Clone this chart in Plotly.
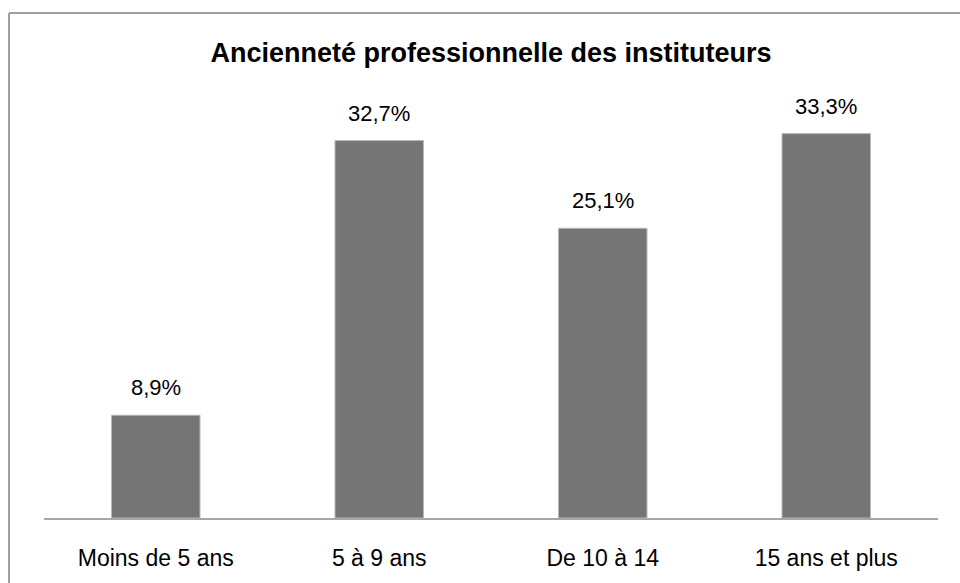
import plotly.graph_objects as go

categories = ["Moins de 5 ans", "5 à 9 ans", "De 10 à 14", "15 ans et plus"]
values = [8.9, 32.7, 25.1, 33.3]
labels = [f"{v:.1f}%".replace(".", ",") for v in values]

W, H = 960, 583
ml, mr, mt, mb = 44, 22, 114, 61
pw, ph = W - ml - mr, H - mt - mb

FONT = "Liberation Sans"

fig = go.Figure()
fig.add_trace(go.Bar(
    x=categories, y=values,
    marker=dict(color="#757575", line=dict(color="#b8b8b8", width=1)),
    hoverinfo="skip",
))

for c, v, t in zip(categories, values, labels):
    fig.add_annotation(x=c, y=v, text=t, showarrow=False, yanchor="bottom",
                       yshift=13, font=dict(family=FONT, size=22, color="#000"))

def px2x(p):
    return (p - ml) / pw

def py2y(p):
    return (H - mb - p) / ph

# chart-area border: only its top and left edges fall inside the picture
border = dict(color="#a0a0a0", width=2)
fig.add_shape(type="line", xref="paper", yref="paper",
              x0=px2x(9), x1=px2x(W + 20), y0=py2y(12), y1=py2y(12), line=border)
fig.add_shape(type="line", xref="paper", yref="paper",
              x0=px2x(9), x1=px2x(9), y0=py2y(12), y1=py2y(H + 20), line=border)

fig.update_layout(
    width=W, height=H,
    margin=dict(l=ml, r=mr, t=mt, b=mb),
    paper_bgcolor="white", plot_bgcolor="white",
    showlegend=False,
    bargap=0.604,
    title=dict(text="<b>Ancienneté professionnelle des instituteurs</b>",
               x=0.5, xref="paper", xanchor="center",
               y=1 - 53 / H, yanchor="middle",
               font=dict(family=FONT, size=27, color="#000")),
    xaxis=dict(showline=True, linecolor="#a6a6a6", linewidth=2, ticks="",
               showgrid=False, ticklabelstandoff=18,
               tickfont=dict(family=FONT, size=23, color="#000")),
    yaxis=dict(range=[0, 35], visible=False, showgrid=False, zeroline=False),
)

fig.write_html(
    "out.html",
    config={"displayModeBar": False, "staticPlot": True},
    post_script="document.body.style.margin='0';"
                "document.documentElement.style.overflow='hidden';"
                "document.body.style.overflow='hidden';",
)
